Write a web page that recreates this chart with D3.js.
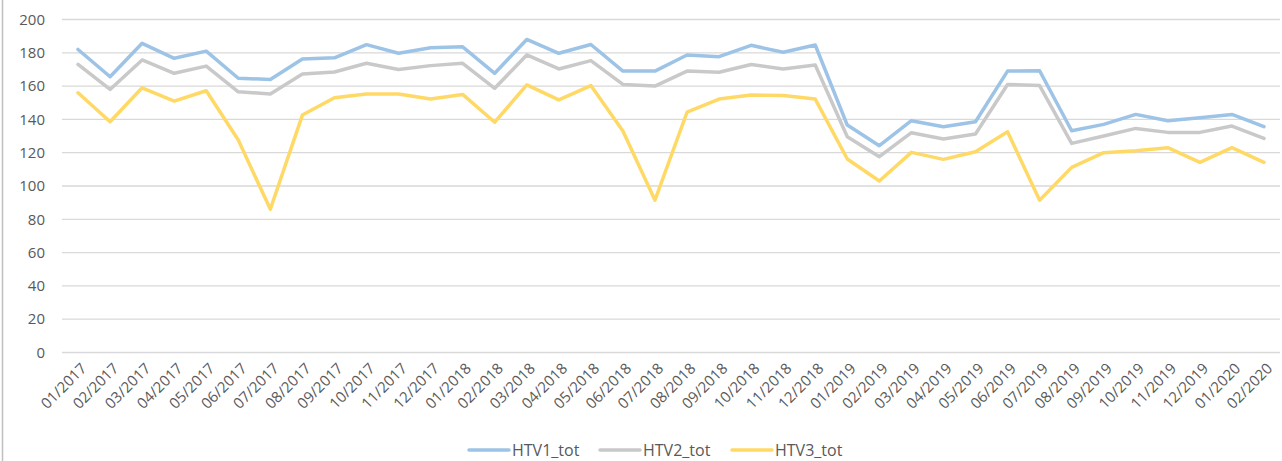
<!DOCTYPE html>
<html>
<head>
<meta charset="utf-8">
<script src="https://cdn.jsdelivr.net/npm/d3@7"></script>
<style>
  body { margin: 0; background: #fff; }
  svg { display: block; }
  text { font-family: "Open Sans", "Noto Sans", sans-serif; fill: #595959; }
</style>
</head>
<body>
<div id="wrapper"></div>
<script>
const months = ['01/2017', '02/2017', '03/2017', '04/2017', '05/2017', '06/2017', '07/2017', '08/2017',
  '09/2017', '10/2017', '11/2017', '12/2017', '01/2018', '02/2018', '03/2018', '04/2018', '05/2018',
  '06/2018', '07/2018', '08/2018', '09/2018', '10/2018', '11/2018', '12/2018', '01/2019', '02/2019',
  '03/2019', '04/2019', '05/2019', '06/2019', '07/2019', '08/2019', '09/2019', '10/2019', '11/2019',
  '12/2019', '01/2020', '02/2020']

const htv1 = [182, 165.6, 185.7, 176.7, 181, 164.7, 164, 176.3, 177, 184.9, 179.7, 183,
  183.6, 167.7, 188, 179.7, 185, 169, 169, 178.7, 177.7, 184.5, 180.3, 184.7,
  136.6, 124.2, 139.2, 135.6, 138.6, 169, 169.2, 133.2, 137, 143, 139.2, 141, 143, 135.6]
const htv2 = [173, 158, 175.7, 167.7, 172, 156.6, 155.3, 167.3, 168.5, 173.7, 170, 172.3,
  173.7, 158.7, 178.7, 170.3, 175.3, 161, 160, 169, 168.3, 173, 170.3, 172.7,
  129.6, 117.6, 132, 128.2, 131.2, 161, 160.3, 125.6, 130, 134.6, 132.2, 132.2, 136, 128.6]
const htv3 = [156, 138.6, 159, 151, 157.2, 127.6, 86, 142.6, 153, 155.3, 155.3, 152.2,
  155, 138.3, 160.7, 151.7, 160.3, 133, 91.5, 144.3, 152.2, 154.7, 154.3, 152.2,
  116.2, 103, 120.2, 116, 120.6, 132.6, 91.5, 111.2, 120, 121.2, 123, 114.2, 123, 114.2]

const seriesNames = ['HTV1_tot', 'HTV2_tot', 'HTV3_tot']
const seriesColors = ['#9dc3e6', '#c9c9c9', '#ffd966']
const yTicks = [0, 20, 40, 60, 80, 100, 120, 140, 160, 180, 200]

const width = 1282
const height = 461
const plot = { left: 62, right: 1280, top: 19.5, bottom: 352.5 }

const svg = d3.select('#wrapper').append('svg')
  .attr('width', width)
  .attr('height', height)

// chart border on the left
svg.append('line')
  .attr('x1', 2.5).attr('x2', 2.5)
  .attr('y1', 0).attr('y2', height)
  .attr('stroke', '#bfbfbf')
  .attr('stroke-width', 1.5)

const x = d3.scaleBand()
  .domain(months)
  .range([plot.left, plot.right])
const y = d3.scaleLinear()
  .domain([0, 200])
  .range([plot.bottom, plot.top])

// gridlines
svg.append('g')
  .selectAll('line')
  .data(yTicks)
  .join('line')
  .attr('x1', plot.left)
  .attr('x2', plot.right)
  .attr('y1', d => y(d))
  .attr('y2', d => y(d))
  .attr('stroke', '#d9d9d9')
  .attr('stroke-width', 1.3)

// y labels
svg.append('g')
  .selectAll('text')
  .data(yTicks)
  .join('text')
  .attr('x', 45)
  .attr('y', d => y(d))
  .attr('dy', '0.35em')
  .attr('text-anchor', 'end')
  .style('font-size', '15px')
  .text(d => d)

// x labels, rotated
svg.append('g')
  .selectAll('text')
  .data(months)
  .join('text')
  .attr('transform', d => 'translate(' + (x(d) + x.bandwidth() / 2 + 2) + ',' + 362 + ') rotate(-45)')
  .attr('text-anchor', 'end')
  .attr('dy', '0.7em')
  .style('font-size', '15px')
  .text(d => d)

const line = d3.line()
  .x((d, i) => x(months[i]) + x.bandwidth() / 2)
  .y(d => y(d))

const allSeries = [htv1, htv2, htv3]
svg.append('g')
  .selectAll('path')
  .data(allSeries)
  .join('path')
  .attr('d', line)
  .attr('fill', 'none')
  .attr('stroke', (d, i) => seriesColors[i])
  .attr('stroke-width', 3.5)
  .attr('stroke-linejoin', 'round')
  .attr('stroke-linecap', 'round')

// legend
const legendX = [469, 600, 732]
const legend = svg.append('g')
  .selectAll('g')
  .data(seriesNames)
  .join('g')
  .attr('transform', (d, i) => 'translate(' + legendX[i] + ',450)')
legend.append('line')
  .attr('x1', 0).attr('x2', 40)
  .attr('stroke', (d, i) => seriesColors[i])
  .attr('stroke-width', 3.5)
  .attr('stroke-linecap', 'round')
legend.append('text')
  .attr('x', 43)
  .attr('dy', '0.35em')
  .style('font-size', '16px')
  .text(d => d)
</script>
</body>
</html>
